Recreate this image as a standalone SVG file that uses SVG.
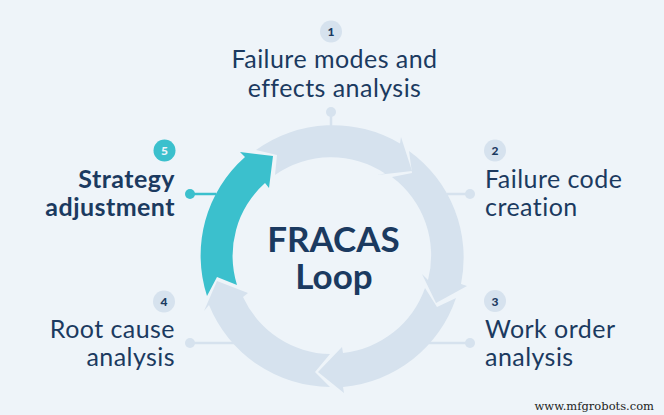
<svg xmlns="http://www.w3.org/2000/svg" width="664" height="415" viewBox="0 0 664 415">
<style>
.l{font-family:"Lato","Liberation Sans",sans-serif;font-size:25px;letter-spacing:.45px;fill:#1b3a60}
.b{font-weight:700}
.e{text-anchor:end}
.m{text-anchor:middle}
.n{font-family:"Lato","Liberation Sans",sans-serif;font-size:12px;font-weight:900;text-anchor:middle;fill:#1b3a60}
.c{font-family:"Lato","Liberation Sans",sans-serif;font-size:35px;font-weight:700;text-anchor:middle;fill:#1b3a60}
.g{fill:#d6e2ee}
.t{fill:#3bc0cd}
.gl{stroke:#d6e2ee;stroke-width:2.5;fill:none}
.tl{stroke:#3bc0cd;stroke-width:2.5;fill:none}
</style>
<rect width="664" height="415" fill="#eef4f9"/>
<g id="connectors">
<path class="gl" d="M331 112V126"/>
<path class="gl" d="M470 194H447"/>
<path class="gl" d="M470 343H428"/>
<path class="gl" d="M190 343H235"/>
<path class="tl" d="M190 194H216"/>
</g>
<g id="ring">
<path id="arrow1" class="g" d="M256 150A131.500 131.500 0 0 1 400 143.500L401 137L412 171L377 175L385 173.500A98 98 0 0 0 275 175L277 155Z"/>
<path id="arrow2" class="g" d="M409 151A131.500 131.500 0 0 1 461 284L467 286L436 303L422 274L428 280A98 98 0 0 0 392 177L412 173Z"/>
<path id="arrow3" class="g" d="M456 298A131.500 131.500 0 0 1 343 387L344 393L318 372L342 347L343 353A98 98 0 0 0 425 288L437 307Z"/>
<path id="arrow4" class="g" d="M330 387A131.500 131.500 0 0 1 209 305L204 311L217 281L248 293L243 297A98 98 0 0 0 330 354L315 372Z"/>
<path id="arrow5" class="t" d="M207 296A131.500 131.500 0 0 1 245 157L240 152L273 156L269 188L265 183A98 98 0 0 0 237 285L217 277Z"/>
</g>
<g id="center"><text class="c"><tspan x="333.500" y="252">FRACAS</tspan><tspan x="334" y="289">Loop</tspan></text></g>
<g id="node1"><circle class="g" cx="331" cy="31.500" r="11"/><circle class="g" cx="331" cy="112" r="5"/><text class="n" x="331" y="36">1</text><text class="l m"><tspan x="334.500" y="68">Failure modes and</tspan><tspan x="334.500" y="97">effects analysis</tspan></text></g>
<g id="node2"><circle class="g" cx="495" cy="150.500" r="11"/><circle class="g" cx="470" cy="194" r="5"/><text class="n" x="495" y="155">2</text><text class="l"><tspan x="485" y="188">Failure code</tspan><tspan x="485" y="216">creation</tspan></text></g>
<g id="node3"><circle class="g" cx="495" cy="301" r="11"/><circle class="g" cx="470" cy="343" r="5"/><text class="n" x="495" y="305.500">3</text><text class="l"><tspan x="485" y="338">Work order</tspan><tspan x="485" y="366">analysis</tspan></text></g>
<g id="node4"><circle class="g" cx="164" cy="301.500" r="11"/><circle class="g" cx="190" cy="343" r="5"/><text class="n" x="164" y="306">4</text><text class="l e"><tspan x="175" y="338">Root cause</tspan><tspan x="175" y="366">analysis</tspan></text></g>
<g id="node5"><circle class="t" cx="164.500" cy="150.500" r="11"/><circle class="t" cx="190" cy="194" r="5"/><text class="n" x="164.500" y="155" style="fill:#eef4f9">5</text><text class="l b e"><tspan x="175" y="188">Strategy</tspan><tspan x="175" y="216">adjustment</tspan></text></g>
<text x="654" y="410" text-anchor="end" font-family="DejaVu Serif, serif" font-size="11.500" fill="#222">www.mfgrobots.com</text>
</svg>
